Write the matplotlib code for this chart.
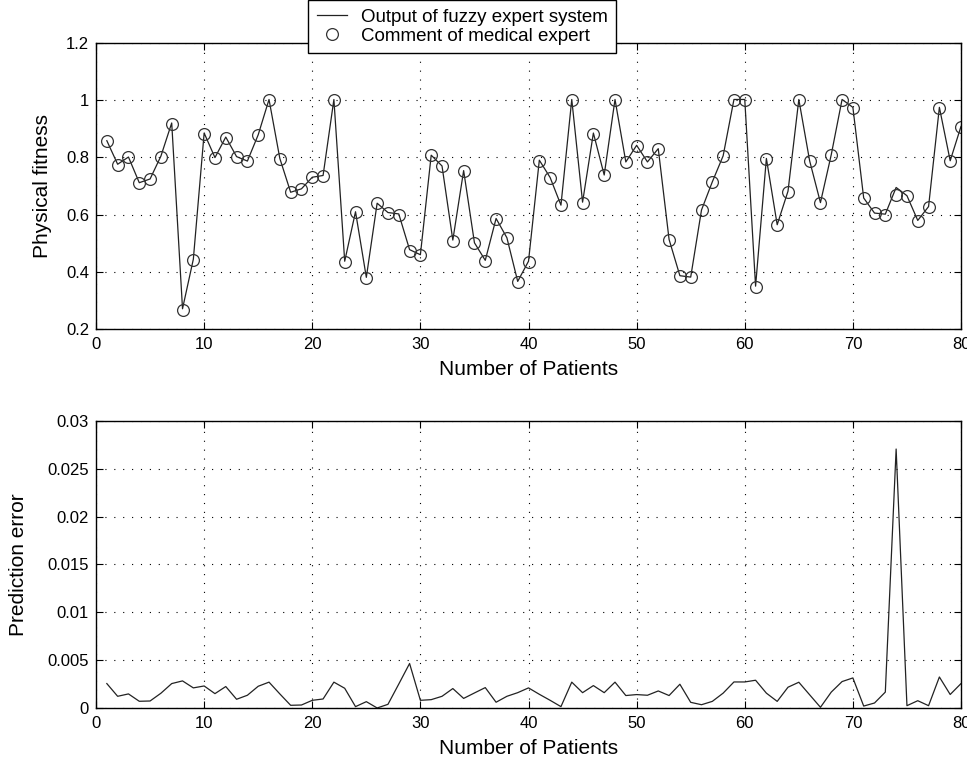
import numpy as np
import matplotlib
matplotlib.use('Agg')
import matplotlib.pyplot as plt

plt.rcParams['font.family'] = ['Liberation Sans', 'DejaVu Sans']

patients = np.arange(1, 81)

expert = [0.856, 0.775, 0.800, 0.711, 0.724, 0.803, 0.918, 0.268, 0.442, 0.883,
          0.798, 0.869, 0.802, 0.786, 0.877, 1.000, 0.795, 0.678, 0.690, 0.730,
          0.736, 1.000, 0.435, 0.610, 0.380, 0.640, 0.607, 0.600, 0.473, 0.459,
          0.807, 0.769, 0.509, 0.753, 0.500, 0.438, 0.586, 0.518, 0.365, 0.435,
          0.789, 0.729, 0.633, 1.000, 0.642, 0.883, 0.737, 1.000, 0.783, 0.841,
          0.783, 0.829, 0.512, 0.384, 0.381, 0.616, 0.714, 0.804, 1.000, 1.000,
          0.347, 0.795, 0.564, 0.680, 1.000, 0.787, 0.642, 0.808, 1.000, 0.972,
          0.658, 0.605, 0.600, 0.668, 0.666, 0.579, 0.628, 0.972, 0.787, 0.906]

error = [0.00255, 0.00122, 0.00147, 0.00070, 0.00073, 0.00154, 0.00255, 0.00283, 0.00210, 0.00230,
         0.00150, 0.00224, 0.00091, 0.00133, 0.00227, 0.00270, 0.00147, 0.00028, 0.00031, 0.00080,
         0.00094, 0.00270, 0.00206, 0.00014, 0.00066, 0.00000, 0.00038, 0.00250, 0.00465, 0.00080,
         0.00087, 0.00122, 0.00203, 0.00100, 0.00157, 0.00213, 0.00060, 0.00122, 0.00160, 0.00210,
         0.00143, 0.00080, 0.00014, 0.00270, 0.00160, 0.00234, 0.00160, 0.00270, 0.00130, 0.00140,
         0.00133, 0.00178, 0.00130, 0.00248, 0.00059, 0.00034, 0.00069, 0.00155, 0.00272, 0.00272,
         0.00290, 0.00155, 0.00069, 0.00217, 0.00269, 0.00138, 0.00007, 0.00166, 0.00276, 0.00314,
         0.00020, 0.00052, 0.00166, 0.02707, 0.00024, 0.00076, 0.00024, 0.00324, 0.00141, 0.00255]

# fuzzy output = expert comment + prediction error (only visible at patient 74)
output = np.array(expert) + np.array(error)

fig = plt.figure(figsize=(9.67, 7.62), dpi=100)
ax1 = fig.add_axes([0.0993, 0.5682, 0.8945, 0.3753])
ax2 = fig.add_axes([0.0993, 0.0709, 0.8945, 0.3766])

ax1.plot(patients, output, color='#222222', lw=0.9, label='Output of fuzzy expert system')
ax1.plot(patients, expert, ls='none', marker='o', ms=8.5, mfc='none', mec='#333333',
         mew=0.9, label='Comment of medical expert')
ax1.set_xlim(0, 80)
ax1.set_ylim(0.2, 1.2)
ax1.set_yticks([0.2, 0.4, 0.6, 0.8, 1.0, 1.2])
ax1.set_yticklabels(['0.2', '0.4', '0.6', '0.8', '1', '1.2'])
ax1.set_xlabel('Number of Patients', fontsize=15)
ax1.set_ylabel('Physical fitness', fontsize=15)
ax1.xaxis.set_label_coords(0.5, -0.108)
ax1.yaxis.set_label_coords(-0.051, 0.5)

ax2.plot(patients, error, color='#222222', lw=0.9)
ax2.set_xlim(0, 80)
ax2.set_ylim(0, 0.03)
ax2.set_yticks([0, 0.005, 0.01, 0.015, 0.02, 0.025, 0.03])
ax2.set_yticklabels(['0', '0.005', '0.01', '0.015', '0.02', '0.025', '0.03'])
ax2.set_xlabel('Number of Patients', fontsize=15)
ax2.set_ylabel('Prediction error', fontsize=15)
ax2.xaxis.set_label_coords(0.5, -0.108)
ax2.yaxis.set_label_coords(-0.079, 0.5)

for ax in (ax1, ax2):
    ax.set_xticks(range(0, 81, 10))
    ax.grid(True, ls=(0, (1, 7)), color='black', lw=0.8)
    ax.tick_params(direction='in', top=True, right=True, labelsize=12, length=5)
    ax.tick_params(axis='x', pad=6)
    ax.tick_params(axis='y', pad=5)
    for s in ax.spines.values():
        s.set_linewidth(1.0)

leg = fig.legend(loc='upper left', bbox_to_anchor=(0.319, 1.0), fontsize=13.5,
                 fancybox=False, framealpha=1, edgecolor='black', borderpad=0.45,
                 labelspacing=0.1, handlelength=1.6, handletextpad=0.75, borderaxespad=0)
leg.get_frame().set_linewidth(1.0)

fig.savefig('out.png', dpi=100)
